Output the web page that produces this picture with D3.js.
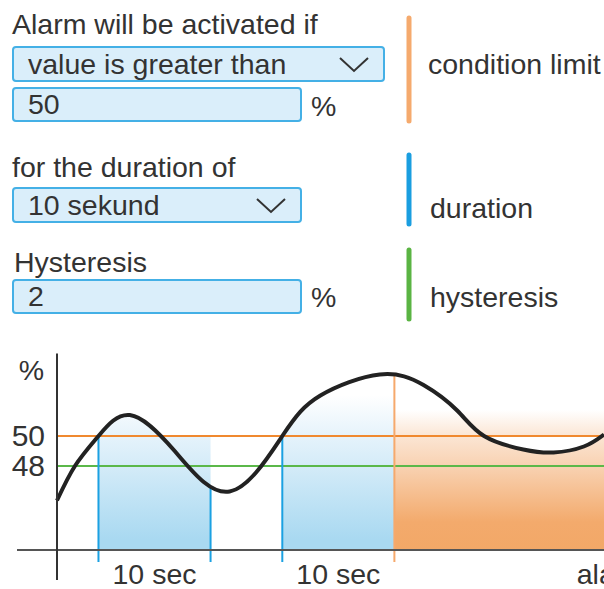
<!DOCTYPE html>
<html>
<head>
<meta charset="utf-8">
<script src="https://cdn.jsdelivr.net/npm/d3@7"></script>
<style>
  body { margin: 0; background: #fff; }
  svg { display: block; font-family: "Liberation Sans", Arial, sans-serif; }
  svg text { font-family: "Liberation Sans", Arial, sans-serif; }
</style>
</head>
<body>
<div id="chart"></div>
<script>
// curve readings: time in seconds, value in %
const times  = [0, 1.6, 3.7, 6.5, 10.5, 15.4, 20.1, 23.5, 28.8, 32.7, 35.7, 38.1, 41.6, 44.3, 47.0, 48.8];
const values = [45.7, 48.0, 50.0, 51.4, 49.0, 46.3, 50.0, 52.7, 54.1, 53.4, 51.7, 50.0, 49.1, 48.9, 49.3, 50.1];
const limit = 50;
const hysteresis = 2;
const durationWindows = [[3.7, 13.7], [20.1, 30.1]];
const alarmWindow = [30.1, 69];
const yTicks = [50, 48];
const xLabels = ["10 sec", "10 sec", "alarm"];

// form texts
const formLabels = ["Alarm will be activated if", "for the duration of", "Hysteresis"];
const formFields = ["value is greater than", "50", "10 sekund", "2"];
const legendNames = ["condition limit", "duration", "hysteresis"];

const width = 604, height = 589;
const svg = d3.select("#chart").append("svg")
    .attr("width", width)
    .attr("height", height);

const ink = "#333";
const fontSize = 28.5;
const orange = "#f0892f", blue = "#1ba1e2", green = "#5bb84a";

// ---------- form part ----------
const form = svg.append("g");

function label(x, y, t) {
    form.append("text").attr("x", x).attr("y", y)
        .attr("font-size", fontSize).attr("fill", ink).text(t);
}
function box(x, y, w, h, t, chevron) {
    form.append("rect").attr("x", x).attr("y", y).attr("width", w).attr("height", h)
        .attr("rx", 3).attr("fill", "#daeefa").attr("stroke", "#44b0e6").attr("stroke-width", 2);
    form.append("text").attr("x", x + 15).attr("y", y + h - 7)
        .attr("font-size", fontSize).attr("fill", ink).text(t);
    if (chevron) {
        const cx = x + w - 30, cy = y + h / 2;
        form.append("polyline")
            .attr("points", `${cx - 14},${cy - 6} ${cx},${cy + 7} ${cx + 14},${cy - 6}`)
            .attr("fill", "none").attr("stroke", ink).attr("stroke-width", 2);
    }
}
function bar(y1, y2, color) {
    form.append("line").attr("x1", 409).attr("x2", 409).attr("y1", y1).attr("y2", y2)
        .attr("stroke", color).attr("stroke-width", 5).attr("stroke-linecap", "round");
}

label(12, 34, formLabels[0]);
box(13, 47, 371, 34, formFields[0], true);
box(13, 88, 288, 33, formFields[1], false);
label(311, 116, "%");
bar(18, 121, "#f5aa6d");
label(428, 74, legendNames[0]);

label(12, 177, formLabels[1]);
box(13, 188, 288, 34, formFields[2], true);
bar(155, 224, "#1a9ee0");
label(430, 218, legendNames[1]);

label(14, 272, formLabels[2]);
box(13, 280, 288, 33, formFields[3], false);
label(311, 307, "%");
bar(250, 319, "#5ab443");
label(430, 307, legendNames[2]);

// ---------- chart part ----------
const data = times.map((t, i) => ({ t, v: values[i] }));

const x = d3.scaleLinear().domain([0, 48.8]).range([57, 604]);
const y = d3.scaleLinear().domain([42.4, 55.5]).range([550, 353.5]);

const defs = svg.append("defs");

function gradient(id, y1, stops) {
    const g = defs.append("linearGradient").attr("id", id)
        .attr("gradientUnits", "userSpaceOnUse")
        .attr("x1", 0).attr("x2", 0).attr("y1", y1).attr("y2", 550);
    stops.forEach(s => g.append("stop").attr("offset", s[0]).attr("stop-color", s[1]));
}
gradient("blueGrad", 395, [[0, "#ffffff"], [0.26, "#e6f3fb"], [0.93, "#a9d9f1"], [1, "#a9d9f1"]]);
gradient("orangeGrad", 410, [[0, "#ffffff"], [0.19, "#fbe5d3"], [0.43, "#f8cfad"], [0.8, "#f3aa6c"], [1, "#f2a867"]]);

const curve = d3.curveNatural;
const underCurve = d3.area().x(d => x(d.t)).y0(600).y1(d => y(d.v)).curve(curve);

// clip: below the curve
defs.append("clipPath").attr("id", "belowCurve")
    .append("path").datum(data).attr("d", underCurve);

// clip: below the curve or below the limit line
const clipBlue = defs.append("clipPath").attr("id", "blueClip");
clipBlue.append("path").datum(data).attr("d", underCurve);
clipBlue.append("rect").attr("x", 0).attr("width", width)
    .attr("y", y(limit)).attr("height", height - y(limit));

// clip: below the curve or above the limit line
const clipOrange = defs.append("clipPath").attr("id", "orangeClip");
clipOrange.append("path").datum(data).attr("d", underCurve);
clipOrange.append("rect").attr("x", 0).attr("width", width)
    .attr("y", 0).attr("height", y(limit));

const chart = svg.append("g");

chart.selectAll("rect.duration")
    .data(durationWindows)
    .join("rect")
    .attr("class", "duration")
    .attr("x", d => x(d[0]))
    .attr("width", d => x(d[1]) - x(d[0]))
    .attr("y", y(55.5))
    .attr("height", y.range()[0] - y(55.5))
    .attr("fill", "url(#blueGrad)")
    .attr("clip-path", "url(#blueClip)");

chart.append("rect")
    .attr("x", x(alarmWindow[0]))
    .attr("width", x(alarmWindow[1]) - x(alarmWindow[0]))
    .attr("y", y(55.5))
    .attr("height", y.range()[0] - y(55.5))
    .attr("fill", "url(#orangeGrad)")
    .attr("clip-path", "url(#orangeClip)");

// limit and hysteresis lines
chart.append("line")
    .attr("x1", x(0)).attr("x2", width)
    .attr("y1", y(limit)).attr("y2", y(limit))
    .attr("stroke", orange).attr("stroke-width", 2);
chart.append("line")
    .attr("x1", x(0)).attr("x2", width)
    .attr("y1", y(limit - hysteresis)).attr("y2", y(limit - hysteresis))
    .attr("stroke", green).attr("stroke-width", 2);

// window markers, from the curve down past the axis
const markers = durationWindows.flat().filter(t => t !== alarmWindow[0]);
chart.selectAll("line.marker")
    .data(markers)
    .join("line")
    .attr("class", "marker")
    .attr("x1", d => x(d)).attr("x2", d => x(d))
    .attr("y1", 300).attr("y2", y.range()[0] + 12)
    .attr("stroke", blue).attr("stroke-width", 2)
    .attr("clip-path", "url(#belowCurve)");
chart.append("line")
    .attr("x1", x(alarmWindow[0])).attr("x2", x(alarmWindow[0]))
    .attr("y1", 300).attr("y2", y.range()[0] + 12)
    .attr("stroke", "#f6a96c").attr("stroke-width", 2)
    .attr("clip-path", "url(#belowCurve)");

// the signal
chart.append("path")
    .datum(data)
    .attr("fill", "none")
    .attr("stroke", "#222")
    .attr("stroke-width", 4)
    .attr("d", d3.line().x(d => x(d.t)).y(d => y(d.v)).curve(curve));

// axes
chart.append("line")
    .attr("x1", 17).attr("x2", width)
    .attr("y1", y.range()[0]).attr("y2", y.range()[0])
    .attr("stroke", "#555").attr("stroke-width", 2);
chart.append("line")
    .attr("x1", x(0)).attr("x2", x(0))
    .attr("y1", y.range()[1]).attr("y2", 580)
    .attr("stroke", ink).attr("stroke-width", 2);

const yAxis = chart.append("g")
    .attr("transform", `translate(${x(0)},0)`)
    .call(d3.axisLeft(y).tickValues(yTicks).tickSize(0).tickPadding(12))
    .attr("font-family", null)
    .attr("font-size", null);
yAxis.select(".domain").remove();
yAxis.selectAll("text")
    .attr("font-size", 30)
    .attr("fill", ink);

chart.append("text")
    .attr("x", 44).attr("y", 380)
    .attr("text-anchor", "end")
    .attr("font-size", fontSize).attr("fill", ink)
    .text("%");

const labelWindows = durationWindows.concat([alarmWindow]);
chart.selectAll("text.xlab")
    .data(xLabels)
    .join("text")
    .attr("class", "xlab")
    .attr("x", (d, i) => x((labelWindows[i][0] + labelWindows[i][1]) / 2))
    .attr("y", 584)
    .attr("text-anchor", "middle")
    .attr("font-size", fontSize).attr("fill", ink)
    .text(d => d);
</script>
</body>
</html>
